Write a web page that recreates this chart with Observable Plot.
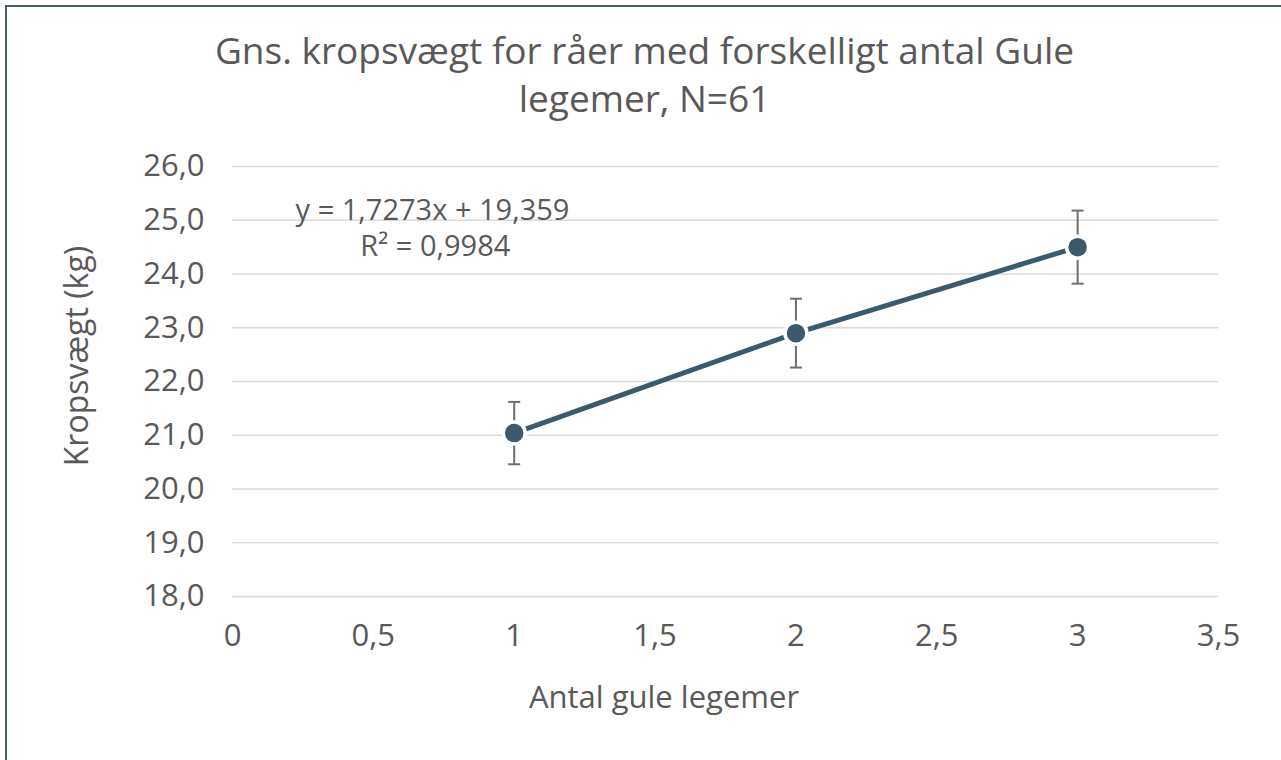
<!DOCTYPE html>
<html>
<head>
<meta charset="utf-8">
<script src="https://cdn.jsdelivr.net/npm/d3@7"></script>
<script src="https://cdn.jsdelivr.net/npm/@observablehq/plot@0.6"></script>
<style>
  body { margin: 0; background: #fff; font-family: "Open Sans", sans-serif; color: #595959; }
  #wrap { position: relative; width: 1281px; height: 760px; overflow: hidden; background: #fff; }
  #frame { position: absolute; left: 5px; top: 5px; width: 1400px; height: 900px; border: 2px solid #44606f; box-sizing: border-box; }
  #title { position: absolute; left: 4px; top: 26px; width: 1281px; text-align: center; font-size: 37px; line-height: 48px; color: #595959; }
  #chart { position: absolute; left: 0; top: 130px; }
  #xlabel { position: absolute; left: 664px; top: 696px; transform: translate(-50%, -50%); font-size: 31px; white-space: nowrap; }
  #ylabel { position: absolute; left: 75px; top: 356px; transform: translate(-50%, -50%) rotate(-90deg); font-size: 32px; white-space: nowrap; }
</style>
</head>
<body>
<div id="wrap">
  <div id="frame"></div>
  <div id="title">Gns. kropsvægt for råer med forskelligt antal Gule<br>legemer, N=61</div>
  <div id="chart"></div>
  <div id="xlabel">Antal gule legemer</div>
  <div id="ylabel">Kropsvægt (kg)</div>
</div>
<script>
// Data
const antal = [1, 2, 3];
const vaegt = [21.04, 22.90, 24.50];
const fejl = [0.58, 0.64, 0.68];

const xTicks = [0, 0.5, 1, 1.5, 2, 2.5, 3, 3.5];
const yTicks = [18, 19, 20, 21, 22, 23, 24, 25, 26];

const eqLabels = ["y = 1,7273x + 19,359", "R² = 0,9984"];
const eqX = [0.71, 0.72];
const eqY = [25.18, 24.51];

const data = antal.map((a, i) => ({x: a, y: vaegt[i], lo: vaegt[i] - fejl[i], hi: vaegt[i] + fejl[i]}));
const eq = eqLabels.map((t, i) => ({t, x: eqX[i], y: eqY[i]}));

const fmtX = d => String(d).replace(".", ",");
const fmtY = d => d.toFixed(1).replace(".", ",");

const capSymbol = { draw(ctx, size) { ctx.moveTo(-6, 0); ctx.lineTo(6, 0); } };

const lineColor = "#3d5a6c";
const errColor = "#6e6e6e";

const chart = Plot.plot({
  width: 1281,
  height: 630,
  marginTop: 36,
  marginBottom: 164,
  marginLeft: 232,
  marginRight: 63,
  style: { fontFamily: "'Open Sans', sans-serif", color: "#595959", background: "transparent", overflow: "visible" },
  x: { domain: [0, 3.5] },
  y: { domain: [18, 26] },
  marks: [
    Plot.ruleY(yTicks, { stroke: "#d9d9d9", strokeWidth: 1.6 }),
    Plot.axisY(yTicks, { tickSize: 0, tickPadding: 28, fontSize: 31, tickFormat: fmtY, label: null }),
    Plot.axisX(xTicks, { tickSize: 0, tickPadding: 27, fontSize: 31, tickFormat: fmtX, label: null }),
    Plot.ruleX(data, { x: "x", y1: "lo", y2: "hi", stroke: errColor, strokeWidth: 2 }),
    Plot.dot(data, { x: "x", y: "hi", symbol: capSymbol, r: 5, stroke: errColor, strokeWidth: 2, fill: "none" }),
    Plot.dot(data, { x: "x", y: "lo", symbol: capSymbol, r: 5, stroke: errColor, strokeWidth: 2, fill: "none" }),
    Plot.line(data, { x: "x", y: "y", stroke: lineColor, strokeWidth: 5 }),
    Plot.dot(data, { x: "x", y: "y", r: 11, fill: lineColor, stroke: "white", strokeWidth: 3.5 }),
    Plot.text(eq, { x: "x", y: "y", text: "t", fontSize: 29, fill: "#595959", textAnchor: "middle" })
  ]
});
document.getElementById("chart").appendChild(chart);
</script>
</body>
</html>
